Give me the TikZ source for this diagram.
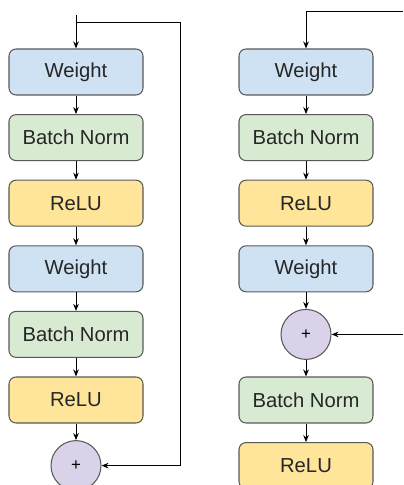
\documentclass[tikz,border=0pt]{standalone}
\usepackage{fontspec}
\setmainfont{Liberation Sans}
\usetikzlibrary{arrows.meta}

\definecolor{wblue}{HTML}{CFE2F3}
\definecolor{bngreen}{HTML}{D9EAD3}
\definecolor{reluyellow}{HTML}{FFE599}
\definecolor{addpurple}{HTML}{D9D2E9}
\definecolor{edge}{HTML}{595959}

\begin{document}
\begin{tikzpicture}[
    blk/.style={draw=edge, line width=0.75pt, rounded corners=5pt,
      minimum width=3.35cm, minimum height=1.15cm,
      font=\fontsize{14.4}{17}\selectfont, text=black!85},
    wt/.style={blk, fill=wblue},
    bn/.style={blk, fill=bngreen},
    act/.style={blk, fill=reluyellow},
    sum/.style={circle, draw=edge, fill=addpurple, line width=0.75pt,
      minimum size=1.25cm, inner sep=0pt, font=\fontsize{12}{14}\selectfont},
    arr/.style={-{Stealth[length=5pt,width=4pt]}, line width=0.6pt}
  ]
    \def\xl{1.9}
    \def\xr{7.65}
    \def\dy{1.64}

    \useasboundingbox (0,0) rectangle (10.075,-12.125);

    % left block: addition after the last ReLU
    \foreach \n/\s/\t [count=\i from 0] in
      {lw1/wt/Weight, lbn1/bn/Batch Norm, lr1/act/ReLU,
       lw2/wt/Weight, lbn2/bn/Batch Norm, lr2/act/ReLU, ladd/sum/+}
      \node [\s] (\n) at (\xl,{-1.8-\dy*\i}) {\t};

    % right block: addition before the second Batch Norm
    \foreach \n/\s/\t [count=\i from 0] in
      {rw1/wt/Weight, rbn1/bn/Batch Norm, rr1/act/ReLU,
       rw2/wt/Weight, radd/sum/+, rbn2/bn/Batch Norm, rr2/act/ReLU}
      \node [\s] (\n) at (\xr,{-1.8-\dy*\i}) {\t};

    \foreach \a/\b in {lw1/lbn1, lbn1/lr1, lr1/lw2, lw2/lbn2, lbn2/lr2, lr2/ladd,
      rw1/rbn1, rbn1/rr1, rr1/rw2, rw2/radd, radd/rbn2, rbn2/rr2}
      \draw [arr] (\a) -- (\b) ;

    % skip connections
    \coordinate (lin) at (\xl,-0.375) ;
    \coordinate (lsplit) at (\xl,-0.55) ;
    \draw [arr] (lin) -- (lw1) ;
    \draw [arr] (lsplit) -- (4.5,-0.55) |- (ladd) ;

    \coordinate (rin) at (10.075,-0.275) ;
    \coordinate (rskip) at (radd -| rin) ;
    \draw [arr] (rin) -| (rw1) ;
    \draw [arr] (rskip) -- (radd) ;

  \end{tikzpicture}
\end{document}
